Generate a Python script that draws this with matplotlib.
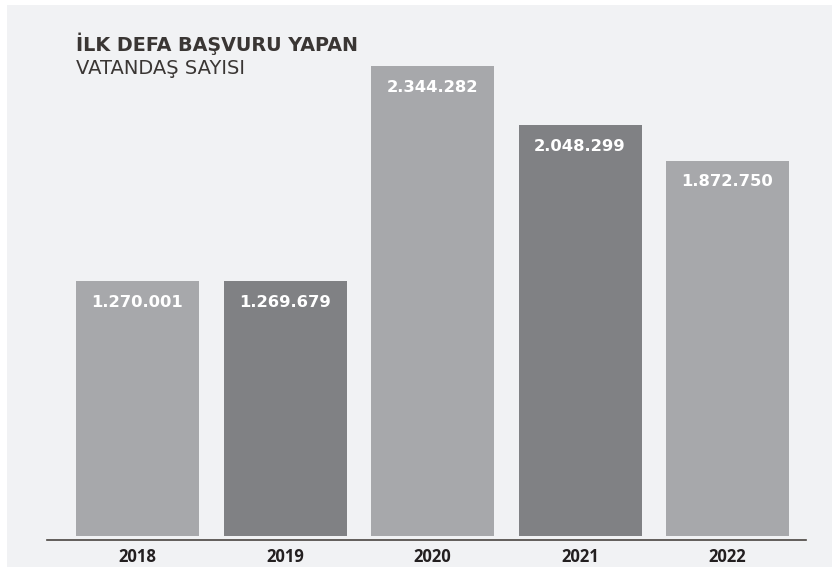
import matplotlib.pyplot as plt
from matplotlib.patches import Rectangle

years = ["2018", "2019", "2020", "2021", "2022"]
applicants = [1270001, 1269679, 2344282, 2048299, 1872750]
labels = ["1.270.001", "1.269.679", "2.344.282", "2.048.299", "1.872.750"]
bar_colors = ["#a7a8ab", "#808184", "#a7a8ab", "#808184", "#a7a8ab"]

W, H = 832, 567
fig = plt.figure(figsize=(W / 100, H / 100), dpi=100)
fig.patch.set_facecolor("white")

# light grey panel behind everything
fig.add_artist(Rectangle((7 / W, 0), 1, (H - 5) / H, transform=fig.transFigure,
                         facecolor="#f1f2f4", edgecolor="none", zorder=0))

ax = fig.add_axes([47 / W, (H - 536) / H, (806 - 47) / W, (536 - 56) / H])
ax.set_facecolor("none")

x = range(len(years))
ax.bar(x, applicants, width=0.834, color=bar_colors, zorder=2)
ax.set_xlim(-0.614, 4.532)
ax.set_ylim(0, 2344282 * 480 / 470)

for i, (v, lab) in enumerate(zip(applicants, labels)):
    ax.annotate(lab, (i, v), xytext=(0, -21), textcoords="offset pixels",
                ha="center", va="center", color="white", fontsize=11.8,
                fontweight="bold", family="DejaVu Sans", zorder=3)

for s in ["top", "right", "left"]:
    ax.spines[s].set_visible(False)
ax.spines["bottom"].set_position(("outward", 3))
ax.spines["bottom"].set_color("#4a4540")
ax.spines["bottom"].set_linewidth(1.2)
ax.set_yticks([])
ax.set_xticks(list(x))
ax.set_xticklabels(years, fontsize=12, fontweight="bold", family="Open Sans",
                   color="#231f20")
ax.tick_params(axis="x", length=0, pad=6)

fig.text(76 / W, 1 - 44 / H, "İLK DEFA BAŞVURU YAPAN", fontsize=13.8,
         fontweight="bold", family="DejaVu Sans", color="#3a3634", va="center")
fig.text(76 / W, 1 - 68 / H, "VATANDAŞ SAYISI", fontsize=14,
         family="DejaVu Sans", color="#3a3634", va="center")

fig.savefig("out.png", dpi=100)
